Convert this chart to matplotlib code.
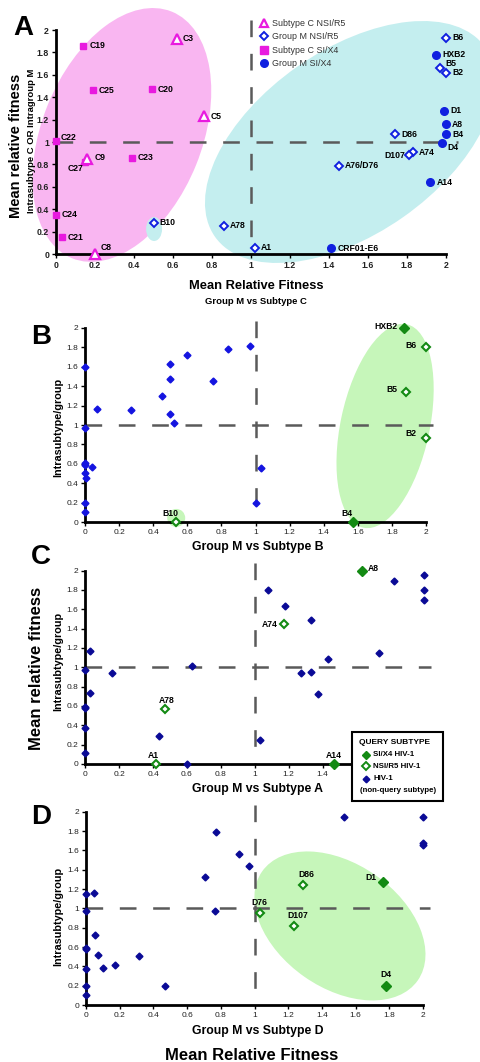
import matplotlib
matplotlib.use('Agg')
import matplotlib.pyplot as plt
from matplotlib.patches import Ellipse, Rectangle
from matplotlib.transforms import ScaledTranslation
from matplotlib.lines import Line2D
import numpy as np

plt.rcParams['font.family'] = ['Liberation Sans', 'DejaVu Sans']
plt.rcParams['lines.scale_dashes'] = False

# ---------------- DATA ----------------
# Panel A: Group M vs Subtype C
a_cnsi_labels = ['C3', 'C5', 'C9', 'C8']
a_cnsi_x = [0.62, 0.76, 0.16, 0.20]
a_cnsi_y = [1.92, 1.23, 0.85, 0.0]
a_csi_labels = ['C19', 'C25', 'C20', 'C22', 'C27', 'C23', 'C24', 'C21']
a_csi_x = [0.14, 0.19, 0.49, 0.0, 0.15, 0.39, 0.0, 0.03]
a_csi_y = [1.86, 1.46, 1.47, 1.01, 0.82, 0.86, 0.35, 0.15]
a_mnsi_labels = ['B10', 'A78', 'B6', 'B5', 'B2', 'D86', 'A74', 'D107', 'A76/D76', 'A1']
a_mnsi_x = [0.50, 0.86, 2.0, 1.97, 2.0, 1.74, 1.83, 1.81, 1.45, 1.02]
a_mnsi_y = [0.28, 0.25, 1.93, 1.66, 1.62, 1.07, 0.91, 0.88, 0.79, 0.05]
a_msi_labels = ['HXB2', 'D1', 'A8', 'B4', 'D4', 'A14', 'CRF01-E6']
a_msi_x = [1.95, 1.99, 2.0, 2.0, 1.98, 1.92, 1.41]
a_msi_y = [1.78, 1.28, 1.16, 1.07, 0.99, 0.64, 0.05]

# Panel B: Group M vs Subtype B
b_other_x = [0.0, 0.07, 0.27, 0.45, 0.50, 0.50, 0.50, 0.52, 0.60, 0.75, 0.84, 0.97,
             0.0, 0.0, 0.0, 0.04, 0.0, 0.005, 0.0, 0.0, 1.03, 1.0]
b_other_y = [1.60, 1.16, 1.15, 1.30, 1.63, 1.47, 1.11, 1.02, 1.72, 1.45, 1.78, 1.81,
             0.97, 0.61, 0.59, 0.57, 0.51, 0.46, 0.20, 0.11, 0.56, 0.20]
b_si_labels = ['HXB2', 'B4']
b_si_x = [1.87, 1.57]
b_si_y = [2.0, 0.0]
b_nsi_labels = ['B6', 'B5', 'B2', 'B10']
b_nsi_x = [2.0, 1.88, 2.0, 0.535]
b_nsi_y = [1.80, 1.34, 0.87, 0.0]

# Panel C: Group M vs Subtype A
c_other_x = [0.03, 0.0, 0.16, 0.03, 0.0, 0.0, 0.0, 0.0, 0.435, 0.60, 0.63, 1.08, 1.18,
             1.33, 1.82, 2.0, 2.0, 2.0, 1.73, 1.43, 1.27, 1.33, 1.37, 1.03]
c_other_y = [1.17, 0.97, 0.94, 0.73, 0.59, 0.58, 0.375, 0.11, 0.29, 0.0, 1.01, 1.80, 1.63,
             1.49, 1.89, 1.95, 1.80, 1.70, 1.15, 1.09, 0.94, 0.955, 0.72, 0.25]
c_si_labels = ['A8', 'A14']
c_si_x = [1.63, 1.47]
c_si_y = [2.0, 0.0]
c_nsi_labels = ['A74', 'A78', 'A1']
c_nsi_x = [1.17, 0.47, 0.415]
c_nsi_y = [1.445, 0.566, 0.0]

# Panel D: Group M vs Subtype D
d_other_x = [0.0, 0.046, 0.0, 0.053, 0.0, 0.0, 0.069, 0.103, 0.17, 0.0, 0.316, 0.0, 0.0,
             0.469, 0.704, 0.77, 0.764, 0.908, 0.969, 1.533, 2.0, 2.0, 2.0]
d_other_y = [1.145, 1.16, 0.97, 0.727, 0.59, 0.58, 0.514, 0.386, 0.41, 0.372, 0.51, 0.2,
             0.107, 0.2, 1.32, 1.79, 0.97, 1.56, 1.44, 1.948, 1.948, 1.68, 1.66]
d_si_labels = ['D1', 'D4']
d_si_x = [1.76, 1.78]
d_si_y = [1.27, 0.2]
d_nsi_labels = ['D86', 'D76', 'D107']
d_nsi_x = [1.29, 1.03, 1.234]
d_nsi_y = [1.24, 0.955, 0.817]

tick_vals = [0, 0.2, 0.4, 0.6, 0.8, 1, 1.2, 1.4, 1.6, 1.8, 2]
tick_labels = ['0', '0.2', '0.4', '0.6', '0.8', '1', '1.2', '1.4', '1.6', '1.8', '2']
# panel C: x tick labels from 1.6 on are hidden under the legend box
c_xtick_labels = ['0', '0.2', '0.4', '0.6', '0.8', '1', '1.2', '1.4', '', '', '']

legend_a_labels = ['Subtype C NSI/R5', 'Group M NSI/R5', 'Subtype C SI/X4', 'Group M SI/X4']
legend_c_title = 'QUERY SUBTYPE'
legend_c_labels = ['SI/X4 HIV-1', 'NSI/R5 HIV-1', 'HIV-1', '(non-query subtype)']

# ---------------- STYLE ----------------
W, H = 480, 1062
fig = plt.figure(figsize=(W / 100, H / 100), dpi=100)

MAG = '#E81ADF'
BLUE_A = '#1020E0'
BLUE_B = '#1414E0'
NAVY = '#0A0A96'
GREEN = '#138A13'
PINK_FILL = '#F9B6F1'
CYAN_FILL = '#C4EEEF'
GREEN_FILL = '#C6F6BA'
DASH = '#5A5A5A'


def P(x, y):
    return (x / W, 1 - y / H)


def make_ax(x0, sx, y0, sy, xmax, ymax, bold_ticks, xlabels=tick_labels):
    ax = fig.add_axes([x0 / W, 1 - y0 / H, xmax * sx / W, ymax * sy / H])
    ax.set_xlim(0, xmax)
    ax.set_ylim(0, ymax)
    ax.patch.set_visible(False)
    for s in ['top', 'right']:
        ax.spines[s].set_visible(False)
    for s in ['left', 'bottom']:
        ax.spines[s].set_bounds(0, 2)
        ax.spines[s].set_linewidth(2)
    ax.set_xticks(tick_vals)
    ax.set_yticks(tick_vals)
    ax.set_xticklabels(xlabels)
    ax.set_yticklabels(tick_labels)
    ax.tick_params(direction='out', length=3, width=1, pad=2,
                   labelsize=6.3 if bold_ticks else 6, labelcolor='#222222')
    if bold_ticks:
        for t in ax.get_xticklabels() + ax.get_yticklabels():
            t.set_fontweight('bold')
    return ax


def ellipse(ax, cx, cy, a_px, b_px, ang, color):
    e = Ellipse((0, 0), 2 * a_px / 100, 2 * b_px / 100, angle=ang,
                transform=fig.dpi_scale_trans + ScaledTranslation(cx, cy, ax.transData),
                facecolor=color, edgecolor='none', zorder=0, clip_on=False)
    ax.add_patch(e)


def dashes(ax, hx, vy):
    ax.plot([0, hx], [1, 1], color=DASH, lw=1.8, dashes=(12, 12), zorder=1, clip_on=False)
    ax.plot([1, 1], [vy, 0], color=DASH, lw=1.8, dashes=(12, 12), zorder=1, clip_on=False)


def labels(ax, names, xs, ys, offs, size=6.2):
    for n, x, y in zip(names, xs, ys):
        dx, dy, ha = offs.get(n, (6, 0, 'left'))
        ax.annotate(n, (x, y), xytext=(dx, dy), textcoords='offset pixels',
                    ha=ha, va='center', fontsize=size, fontweight='bold', zorder=5,
                    annotation_clip=False)


# ---------------- PANEL A ----------------
axA = make_ax(56, 195, 254, 112, 2.1, 2.1, True)
ellipse(axA, 0.338, 1.063, 133, 80, 68, PINK_FILL)
ellipse(axA, 1.508, 1.0, 165, 92, 35, CYAN_FILL)
ellipse(axA, 0.503, 0.223, 8, 12, 0, CYAN_FILL)
dashes(axA, 2.06, 2.09)
axA.plot(a_csi_x, a_csi_y, 's', ms=5, color=MAG, ls='none', zorder=3, clip_on=False)
axA.plot(a_cnsi_x, a_cnsi_y, '^', ms=6.5, mfc='white', mec=MAG, mew=1.6, ls='none',
         zorder=4, clip_on=False)
axA.plot(a_mnsi_x, a_mnsi_y, 'D', ms=3.8, mfc='white', mec=BLUE_A, mew=1.4, ls='none',
         zorder=3, clip_on=False)
axA.plot(a_msi_x, a_msi_y, 'o', ms=5.5, color=BLUE_A, ls='none', zorder=3, clip_on=False)
offA = {'C8': (6, 6, 'left'), 'C27': (-2, -6, 'right'), 'C22': (5, 3, 'left'),
        'C9': (7, 1, 'left'), 'D107': (-4, 0, 'right'), 'B5': (5, 5, 'left'),
        'D4': (5, -4, 'left'), 'A1': (6, 1, 'left'), 'CRF01-E6': (7, 0, 'left')}
labels(axA, a_cnsi_labels, a_cnsi_x, a_cnsi_y, offA)
labels(axA, a_csi_labels, a_csi_x, a_csi_y, offA)
labels(axA, a_mnsi_labels, a_mnsi_x, a_mnsi_y, offA)
labels(axA, a_msi_labels, a_msi_x, a_msi_y, offA)

hA = [Line2D([], [], marker='^', ls='none', mfc='white', mec=MAG, mew=1.6, ms=6),
      Line2D([], [], marker='D', ls='none', mfc='white', mec=BLUE_A, mew=1.4, ms=3.8),
      Line2D([], [], marker='s', ls='none', color=MAG, ms=5.5),
      Line2D([], [], marker='o', ls='none', color=BLUE_A, ms=5.5)]
fig.legend(hA, legend_a_labels,
           loc='upper left', bbox_to_anchor=(260 / W, 1 - 19 / H), frameon=False,
           fontsize=6.4, handlelength=1.0, handletextpad=0.3, labelspacing=0.5,
           borderpad=0, borderaxespad=0, labelcolor='#333333')

fig.text(23 / W, 1 - 28 / H, 'A', fontsize=20, fontweight='bold', ha='center', va='center')
fig.text(16 / W, 1 - 146 / H, 'Mean relative fitness', fontsize=10.5, fontweight='bold',
         rotation=90, ha='center', va='center')
fig.text(31 / W, 1 - 141 / H, 'Intrasubtype C OR Intragroup M', fontsize=6.8,
         fontweight='bold', rotation=90, ha='center', va='center')
fig.text(256 / W, 1 - 286 / H, 'Mean Relative Fitness', fontsize=9.3, fontweight='bold',
         ha='center', va='center')
fig.text(256 / W, 1 - 301 / H, 'Group M vs Subtype C', fontsize=6.8, fontweight='bold',
         ha='center', va='center')

# ---------------- PANEL B ----------------
axB = make_ax(85, 170.5, 522.3, 97.3, 2.1, 2.1, False)
ellipse(axB, 1.76, 0.99, 104, 44.5, 78, GREEN_FILL)
ellipse(axB, 0.535, 0.045, 9, 9, 0, GREEN_FILL)
dashes(axB, 2.04, 2.07)
axB.plot(b_other_x, b_other_y, 'D', ms=3.5, color=BLUE_B, ls='none', zorder=3, clip_on=False)
axB.plot(b_si_x, b_si_y, 'D', ms=5, color=GREEN, ls='none', zorder=3, clip_on=False)
axB.plot(b_nsi_x, b_nsi_y, 'D', ms=4, mfc='white', mec=GREEN, mew=1.5, ls='none',
         zorder=3, clip_on=False)
offB = {'HXB2': (-6, 1, 'right'), 'B4': (-6, 9, 'center'), 'B6': (-10, 2, 'right'),
        'B5': (-8, 2, 'right'), 'B2': (-10, 4, 'right'), 'B10': (-6, 9, 'center')}
labels(axB, b_si_labels, b_si_x, b_si_y, offB)
labels(axB, b_nsi_labels, b_nsi_x, b_nsi_y, offB)
fig.text(41 / W, 1 - 337 / H, 'B', fontsize=20, fontweight='bold', ha='center', va='center')
fig.text(58 / W, 1 - 427 / H, 'Intrasubtype/group', fontsize=7.8, fontweight='bold',
         rotation=90, ha='center', va='center')
fig.text(258 / W, 1 - 547 / H, 'Group M vs Subtype B', fontsize=8.8, fontweight='bold',
         ha='center', va='center')

# ---------------- PANEL C ----------------
axC = make_ax(85.3, 169.5, 764, 96.7, 2.1, 2.1, False, xlabels=c_xtick_labels)
dashes(axC, 2.04, 2.08)
axC.plot(c_other_x, c_other_y, 'D', ms=3.5, color=NAVY, ls='none', zorder=3, clip_on=False)
axC.plot(c_si_x, c_si_y, 'D', ms=5, color=GREEN, ls='none', zorder=3, clip_on=False)
axC.plot(c_nsi_x, c_nsi_y, 'D', ms=4, mfc='white', mec=GREEN, mew=1.5, ls='none',
         zorder=3, clip_on=False)
offC = {'A8': (6.5, 2, 'left'), 'A74': (-6, 0, 'right'), 'A14': (-1, 8, 'center'),
        'A78': (2, 9, 'center'), 'A1': (-2, 8, 'center')}
labels(axC, c_si_labels, c_si_x, c_si_y, offC)
labels(axC, c_nsi_labels, c_nsi_x, c_nsi_y, offC)
fig.text(41 / W, 1 - 557 / H, 'C', fontsize=20, fontweight='bold', ha='center', va='center')
fig.text(37 / W, 1 - 668 / H, 'Mean relative fitness', fontsize=12, fontweight='bold',
         rotation=90, ha='center', va='center')
fig.text(58 / W, 1 - 661 / H, 'Intrasubtype/group', fontsize=7.8, fontweight='bold',
         rotation=90, ha='center', va='center')
fig.text(258 / W, 1 - 789 / H, 'Group M vs Subtype A', fontsize=8.8, fontweight='bold',
         ha='center', va='center')

# manual legend box for panels C/D
fig.add_artist(Rectangle(P(352, 801), 91 / W, 69 / H, transform=fig.transFigure,
                         facecolor='white', edgecolor='black', lw=1.5, zorder=6))
fig.text(*P(359, 742), legend_c_title, fontsize=6, fontweight='bold', ha='left',
         va='center', zorder=7)
leg_marks = [dict(marker='D', color=GREEN, ms=4.5, ls='none'),
             dict(marker='D', mfc='white', mec=GREEN, mew=1.4, ms=3.8, ls='none'),
             dict(marker='D', color=NAVY, ms=3.4, ls='none')]
leg_y = [755, 766, 778.5]
for mk, yy, lab in zip(leg_marks, leg_y, legend_c_labels[:3]):
    fig.add_artist(Line2D([P(366, yy)[0]], [P(366, yy)[1]], transform=fig.transFigure,
                          zorder=7, **mk))
    fig.text(*P(373, yy), lab, fontsize=5.7, fontweight='bold', ha='left', va='center',
             zorder=7)
fig.text(*P(398, 791), legend_c_labels[3], fontsize=5.7, fontweight='bold', ha='center',
         va='center', zorder=7)

# ---------------- PANEL D ----------------
axD = make_ax(86, 168.5, 1005, 96.65, 2.1, 2.1, False)
ellipse(axD, 1.507, 0.818, 95, 62, -35, GREEN_FILL)
dashes(axD, 2.04, 2.07)
axD.plot(d_other_x, d_other_y, 'D', ms=3.5, color=NAVY, ls='none', zorder=3, clip_on=False)
axD.plot(d_si_x, d_si_y, 'D', ms=5, color=GREEN, ls='none', zorder=3, clip_on=False)
axD.plot(d_nsi_x, d_nsi_y, 'D', ms=4, mfc='white', mec=GREEN, mew=1.5, ls='none',
         zorder=3, clip_on=False)
offD = {'D86': (3, 11, 'center'), 'D1': (-6, 5, 'right'), 'D76': (0, 10.5, 'center'),
        'D107': (4, 10.5, 'center'), 'D4': (0, 11, 'center')}
labels(axD, d_si_labels, d_si_x, d_si_y, offD)
labels(axD, d_nsi_labels, d_nsi_x, d_nsi_y, offD)
fig.text(41 / W, 1 - 817 / H, 'D', fontsize=20, fontweight='bold', ha='center', va='center')
fig.text(58 / W, 1 - 916 / H, 'Intrasubtype/group', fontsize=7.8, fontweight='bold',
         rotation=90, ha='center', va='center')
fig.text(258 / W, 1 - 1031 / H, 'Group M vs Subtype D', fontsize=8.8, fontweight='bold',
         ha='center', va='center')
fig.text(252 / W, 1 - 1055 / H, 'Mean Relative Fitness', fontsize=12, fontweight='bold',
         ha='center', va='center')

fig.savefig('out.png', dpi=100)
